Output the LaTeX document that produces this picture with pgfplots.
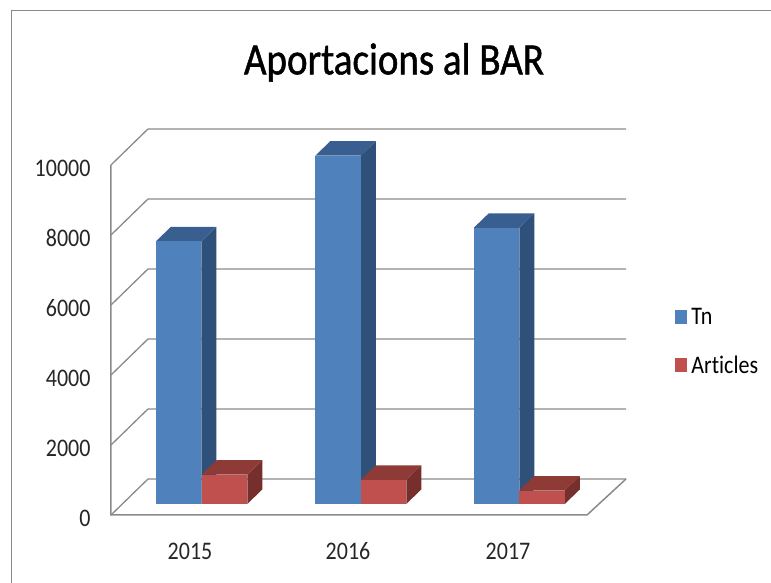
\documentclass[border=0pt]{standalone}
\usepackage{fontspec}
\usepackage{graphicx}
\usepackage{pgfplots}
\pgfplotsset{compat=1.18}
\setmainfont[Ligatures=NoCommon]{Carlito}
\newfontfamily\titlefont[FakeBold=1.2, Ligatures=NoCommon]{Carlito}

\definecolor{tnfront}{HTML}{4F81BD}
\definecolor{tnside}{HTML}{2F5078}
\definecolor{tntop}{HTML}{385F8F}
\definecolor{arfront}{HTML}{C0504D}
\definecolor{arside}{HTML}{772F2D}
\definecolor{artop}{HTML}{8E3A37}
\definecolor{gridc}{HTML}{8A8A8A}

% picture is stretched a bit vertically
\newcommand{\st}[1]{\scalebox{1}[1.15]{#1}}

% one 3d bar: centre x, value, front, top, side
\newcommand{\tdbar}[5]{%
  \pgfmathsetmacro{\xl}{#1-22.75}%
  \pgfmathsetmacro{\xr}{#1+22.75}%
  \pgfmathsetmacro{\xlb}{#1-22.75+15}%
  \pgfmathsetmacro{\xrb}{#1+22.75+15}%
  \pgfmathsetmacro{\vb}{#2+414}%
  \addplot[fill=#5, draw=none, yshift=11pt, forget plot] coordinates {(\xr,0) (\xrb,414) (\xrb,\vb) (\xr,#2)} --cycle;
  \addplot[fill=#4, draw=none, yshift=11pt, forget plot] coordinates {(\xl,#2) (\xlb,\vb) (\xrb,\vb) (\xr,#2)} --cycle;
  \addplot[ybar, bar width=45.5pt, bar shift=0pt, fill=#3, draw=none, yshift=11pt, forget plot] coordinates {(#1,#2)};
}

\begin{document}
\begin{tikzpicture}
\path[use as bounding box] (-111pt,-68pt) rectangle (660pt,515pt);
\draw[gridc, line width=1pt] (-99.5pt,-68pt) -- (-99.5pt,504pt) -- (660pt,504pt);
\begin{axis}[
    at={(0pt,0pt)},
    anchor=south west,
    scale only axis,
    width=515pt,
    height=386pt,
    xmin=111, xmax=626,
    ymin=0, ymax=11028,
    clip=false,
    axis line style={draw=none},
    major tick length=0pt,
    scaled y ticks=false,
    xtick={190,348,508},
    xticklabels={\st{2015},\st{2016},\st{2017}},
    ytick={0,2000,4000,6000,8000,10000},
    yticklabels={\st{0},\st{2000},\st{4000},\st{6000},\st{8000},\st{10000}},
    xticklabel style={font=\fontsize{22}{22}\selectfont, color=black!85, anchor=center, yshift=-36pt},
    yticklabel style={font=\fontsize{22}{22}\selectfont, color=black!85, xshift=-17pt, yshift=-3pt},
    title={\st{Aportacions al BAR}},
    title style={at={(0.5495,1.157)}, anchor=center, font=\titlefont\fontsize{39}{39}\selectfont, inner sep=0pt},
    legend style={at={(axis cs:675,5900)}, anchor=north west, draw=none, fill=none,
        font=\fontsize{22}{22}\selectfont, inner sep=0pt, row sep=31pt,
        nodes={inner sep=0pt, text depth=0pt}},
    legend cell align=left,
    legend image code/.code={\fill[#1, draw=none] (0pt,-7pt) rectangle (12pt,7pt); \path (16pt,0pt);},
]
% walls and floor
\addlegendimage{fill=tnfront}
\addlegendentry{\st{Tn}}
\addlegendimage{fill=arfront}
\addlegendentry{\st{Articles}}
\pgfplotsinvokeforeach{0,2000,4000,6000,8000,10000}{
  \addplot[gridc, line width=1.3pt, forget plot] coordinates {(111,#1) (148,#1+1029) (626,#1+1029)};
}
\addplot[gridc, line width=1.5pt, forget plot] coordinates {(111,10000) (111,0) (587,0) (626,1029)};

\tdbar{178.5}{7500}{tnfront}{tntop}{tnside}
\tdbar{224.5}{840}{arfront}{artop}{arside}
\tdbar{338}{9950}{tnfront}{tntop}{tnside}
\tdbar{383.5}{690}{arfront}{artop}{arside}
\tdbar{496.5}{7890}{tnfront}{tntop}{tnside}
\tdbar{542}{385}{arfront}{artop}{arside}
\end{axis}
\end{tikzpicture}
\end{document}
